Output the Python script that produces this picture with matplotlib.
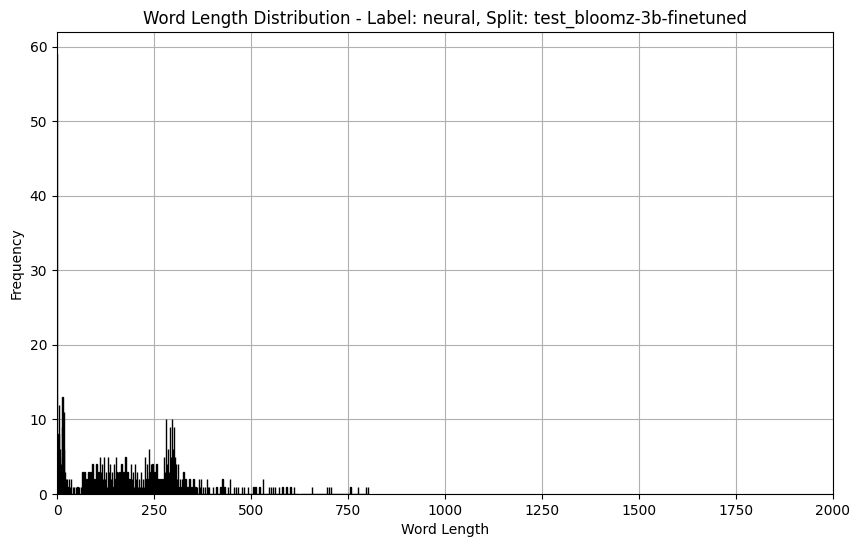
import matplotlib
matplotlib.use("Agg")
import matplotlib.pyplot as plt
import numpy as np

# Word lengths observed and how many texts have each length (bins of width 1)
word_lengths = [0, 3, 4, 6, 8, 10, 12, 14, 15, 17, 18, 20, 22, 25, 27, 30, 33, 36, 41, 44,
                48, 52, 56, 61, 65, 67, 70, 73, 76, 79, 81, 83, 86, 88, 91, 93, 96, 98, 101, 103,
                106, 108, 111, 113, 116, 118, 121, 123, 126, 128, 131, 133, 136, 138, 141, 143, 146, 148, 151, 153,
                156, 158, 161, 163, 166, 168, 171, 173, 176, 178, 181, 183, 186, 188, 191, 193, 196, 198, 201, 203,
                206, 208, 211, 213, 216, 218, 221, 223, 226, 228, 231, 233, 236, 238, 241, 243, 246, 248, 251, 253,
                256, 258, 261, 263, 266, 268, 271, 273, 276, 278, 281, 283, 286, 288, 291, 293, 296, 298, 301, 303,
                306, 308, 311, 313, 316, 318, 321, 324, 326, 328, 331, 336, 341, 343, 346, 351, 356, 361, 366, 368,
                371, 376, 381, 386, 388, 391, 401, 411, 421, 426, 431, 441, 446, 456, 461, 466, 476, 481, 491, 506,
                511, 521, 531, 546, 551, 556, 561, 571, 581, 591, 601, 611, 656, 696, 701, 706, 756, 776, 796, 801]
frequencies = [59, 8, 12, 5, 6, 4, 9, 13, 7, 11, 6, 3, 2, 2, 1, 2, 1, 2, 1, 1,
               1, 1, 1, 1, 3, 2, 3, 1, 2, 1, 3, 2, 3, 1, 4, 2, 2, 1, 4, 2,
               3, 1, 5, 3, 4, 2, 5, 2, 3, 1, 5, 3, 4, 2, 3, 1, 4, 2, 5, 3,
               3, 1, 3, 2, 4, 2, 3, 1, 5, 2, 3, 1, 2, 1, 4, 2, 3, 1, 4, 2,
               3, 1, 2, 1, 3, 1, 2, 1, 5, 2, 4, 2, 6, 3, 4, 2, 4, 1, 3, 2,
               4, 1, 2, 1, 2, 1, 2, 1, 5, 3, 10, 4, 6, 3, 9, 5, 10, 6, 9, 5,
               4, 2, 4, 1, 2, 1, 2, 1, 3, 1, 2, 1, 2, 1, 1, 2, 1, 1, 2, 1,
               2, 1, 1, 2, 1, 1, 1, 1, 1, 2, 1, 1, 2, 1, 1, 1, 1, 1, 1, 1,
               1, 1, 2, 1, 1, 1, 1, 1, 1, 1, 1, 1, 1, 1, 1, 1, 1, 1, 1, 1]

x_max = 2000
title = "Word Length Distribution - Label: neural, Split: test_bloomz-3b-finetuned"

edges = np.arange(0, max(word_lengths) + 2, 1)

fig = plt.figure(figsize=(8.58, 5.47), dpi=100)
ax = fig.add_axes([57/858, 1-494/547, (833-57)/858, (494-32)/547])
ax.hist(word_lengths, bins=edges, weights=frequencies, color="skyblue", edgecolor="black")
ax.set_xlim(0, x_max)
ax.set_title(title)
ax.set_xlabel("Word Length")
ax.set_ylabel("Frequency")
ax.grid(True)
ax.set_axisbelow(True)
fig.savefig("out.png", dpi=100)
